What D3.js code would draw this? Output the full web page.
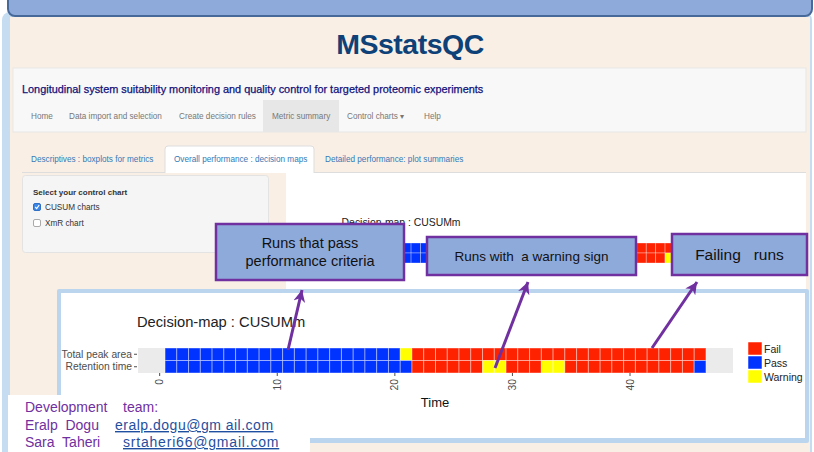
<!DOCTYPE html>
<html>
<head>
  <meta charset="utf-8" />
  <title>MSstatsQC decision map</title>
  <style>
    body { margin: 0; background: #fff; }
    svg { display: block; font-family: "Liberation Sans", Arial, sans-serif; }
    text { white-space: pre; }
    .nav { font-size: 8.2px; fill: #777; }
    .tab { font-size: 8.2px; fill: #337ab7; }
    .callout rect { fill: #8eaadb; stroke: #7030a0; stroke-width: 2.5; }
    .callout text { fill: #111; text-anchor: middle; }
    .axis text { fill: #4d4d4d; font-size: 10.3px; }
    .axis line { stroke: #4d4d4d; }
    .axis path { display: none; }
  </style>
</head>
<body>
  <svg id="svg" width="814" height="452"></svg>
  <script src="https://cdnjs.cloudflare.com/ajax/libs/d3/7.8.5/d3.min.js"></script>
  <script>
    // decision map data, one status per run (P = pass, W = warning, F = fail)
    const metrics = ['Total peak area', 'Retention time']
    const peakArea = ['P','P','P','P','P','P','P','P','P','P','P','P','P','P','P','P','P','P','P','P',
      'W','F','F','F','F','F','F','F','F','F','F','F','F','F','F','F','F','F','F','F','F','F','F','F','F','F']
    const retention = ['P','P','P','P','P','P','P','P','P','P','P','P','P','P','P','P','P','P','P','P',
      'P','F','F','F','F','F','F','W','W','F','F','F','W','W','F','F','F','F','F','F','F','F','F','F','F','P']
    const timeTicks = [0, 10, 20, 30, 40]
    const statusCodes = ['F', 'P', 'W']
    const statusLabels = ['Fail', 'Pass', 'Warning']
    const statusColors = ['#ff2200', '#0033ff', '#ffff00']

    const navItems = ['Home', 'Data import and selection', 'Create decision rules', 'Metric summary', 'Control charts \u25BE', 'Help']
    const navX = [31, 69, 179, 272, 347, 424]
    const tabItems = ['Descriptives : boxplots for metrics', 'Overall performance : decision maps', 'Detailed performance: plot summaries']
    const tabX = [31, 174, 325]

    const purple = '#7030a0'
    var svg = d3.select('#svg')

    var tiles = []
    metrics.forEach((m, i) => {
      var row = i === 0 ? peakArea : retention
      row.forEach((s, j) => tiles.push({ metric: m, time: j + 1, status: s }))
    })

    var color = d3.scaleOrdinal().domain(statusCodes).range(statusColors)

    // ---- app background ----
    svg.append('rect').attr('x', 2).attr('y', 12).attr('width', 810).attr('height', 470)
      .attr('rx', 8).attr('fill', '#c5dcf1')
    svg.append('rect').attr('x', 10).attr('y', 17).attr('width', 800).attr('height', 460).attr('fill', '#faefe5')
    svg.append('rect').attr('x', 8).attr('y', -12).attr('width', 804).attr('height', 28)
      .attr('rx', 7).attr('fill', '#8eaadb').attr('stroke', '#47699a').attr('stroke-width', 2)

    svg.append('text').attr('x', 410).attr('y', 54).attr('text-anchor', 'middle')
      .attr('font-size', 28.5).attr('font-weight', 'bold').attr('fill', '#0d4177')
      .style('letter-spacing', '-0.5px').text('MSstatsQC')

    svg.append('rect').attr('x', 13).attr('y', 68).attr('width', 793).attr('height', 64)
      .attr('fill', '#f8f8f8').attr('stroke', '#e7e7e7')
    svg.append('text').attr('x', 22).attr('y', 93).attr('font-size', 10.9).attr('fill', '#10107a')
      .attr('stroke', '#10107a').attr('stroke-width', 0.25)
      .text('Longitudinal system suitability monitoring and quality control for targeted proteomic experiments')
    svg.append('rect').attr('x', 263).attr('y', 100).attr('width', 76).attr('height', 32).attr('fill', '#e7e7e7')
    svg.selectAll('.nav').data(navItems).join('text').attr('class', 'nav')
      .attr('x', (d, i) => navX[i]).attr('y', 119)
      .attr('fill', (d, i) => i === 3 ? '#555' : '#777').text(d => d)

    // tabs
    svg.append('line').attr('x1', 22).attr('x2', 806).attr('y1', 172.5).attr('y2', 172.5).attr('stroke', '#ddd')
    svg.append('rect').attr('x', 286).attr('y', 173).attr('width', 520).attr('height', 130).attr('fill', '#fff')
    svg.append('path').attr('d', 'M165,173 V149 Q165,146 168,146 H311 Q314,146 314,149 V173')
      .attr('fill', '#fff').attr('stroke', '#ddd')
    svg.selectAll('.tab').data(tabItems).join('text').attr('class', 'tab')
      .attr('x', (d, i) => tabX[i]).attr('y', 162)
      .attr('fill', (d, i) => i === 1 ? '#555' : '#337ab7').text(d => d)

    // sidebar well
    svg.append('rect').attr('x', 22.5).attr('y', 175.5).attr('width', 246).attr('height', 77).attr('rx', 3)
      .attr('fill', '#f5f5f5').attr('stroke', '#e3e3e3')
    svg.append('text').attr('x', 33).attr('y', 195).attr('font-size', 8).attr('font-weight', 'bold')
      .attr('fill', '#333').text('Select your control chart')
    svg.append('rect').attr('x', 33.5).attr('y', 203.5).attr('width', 7).attr('height', 7).attr('rx', 1.5)
      .attr('fill', '#3b86e6').attr('stroke', '#2f6fc4')
    svg.append('path').attr('d', 'M35.2,207 L36.7,208.6 L39.2,205').attr('fill', 'none')
      .attr('stroke', '#fff').attr('stroke-width', 1.2)
    svg.append('rect').attr('x', 33.5).attr('y', 219.5).attr('width', 7).attr('height', 7).attr('rx', 1.5)
      .attr('fill', '#fff').attr('stroke', '#aaa')
    svg.append('text').attr('x', 45).attr('y', 210).attr('font-size', 8.2).attr('fill', '#333').text('CUSUM charts')
    svg.append('text').attr('x', 45).attr('y', 226).attr('font-size', 8.2).attr('fill', '#333').text('XmR chart')

    // ---- decision map ----
    function drawMap(g, full, titleSize) {
      var x = d3.scaleLinear().domain([-1.8, 48.8]).range([138, 733])
      var y = d3.scaleBand().domain(metrics).range([348, 373])
      var w = x(1) - x(0)

      g.append('text').attr('x', 137).attr('y', 327).attr('font-size', titleSize).attr('fill', '#222')
        .text('Decision-map : CUSUMm')
      g.append('rect').attr('x', x(-1.8)).attr('y', 348).attr('width', x(48.8) - x(-1.8))
        .attr('height', 25).attr('fill', '#ebebeb')
      g.selectAll('.tile').data(tiles).join('rect').attr('class', 'tile')
        .attr('x', d => x(d.time) - w / 2).attr('y', d => y(d.metric))
        .attr('width', w).attr('height', y.bandwidth())
        .attr('fill', d => color(d.status))
        .attr('stroke', '#fff').attr('stroke-opacity', 0.4).attr('stroke-width', 1)
      if (!full) return

      g.append('g').attr('class', 'axis').attr('transform', 'translate(137,0)')
        .call(d3.axisLeft(y).tickSize(3).tickPadding(2))
      var xa = g.append('g').attr('class', 'axis').attr('transform', 'translate(0,373)')
        .call(d3.axisBottom(x).tickValues(timeTicks).tickSize(3))
      xa.selectAll('text').attr('transform', 'rotate(-90)').attr('text-anchor', 'end')
        .attr('x', -6).attr('y', 0).attr('dy', '0.35em')
      g.append('text').attr('x', 435).attr('y', 407).attr('text-anchor', 'middle')
        .attr('font-size', 13).attr('fill', '#111').text('Time')

      var leg = g.selectAll('.leg').data(statusLabels).join('g').attr('class', 'leg')
        .attr('transform', (d, i) => `translate(748,${342 + i * 14})`)
      leg.append('rect').attr('width', 14).attr('height', 13).attr('fill', (d, i) => statusColors[i])
        .attr('stroke', '#fff').attr('stroke-width', 0.5)
      leg.append('text').attr('x', 16).attr('y', 10.5).attr('font-size', 10.5).attr('fill', '#222').text(d => d)
    }

    // small map inside the app, partly hidden by the notes
    var defs = svg.append('defs')
    defs.append('clipPath').attr('id', 'app-clip')
      .append('rect').attr('x', 286).attr('y', 173).attr('width', 520).attr('height', 130)
    drawMap(svg.append('g').attr('clip-path', 'url(#app-clip)')
      .append('g').attr('transform', 'translate(232,-35.4) scale(0.8)'), false, 13)

    // notes
    var notes = [
      { x: 216, y: 224, w: 188, h: 56, lines: ['Runs that pass', 'performance criteria'], size: 14.5 },
      { x: 427, y: 237, w: 209, h: 38, lines: ['Runs with  a warning sign'], size: 13.5 },
      { x: 672, y: 234, w: 135, h: 41, lines: ['Failing   runs'], size: 15.5 }
    ]
    var cg = svg.selectAll('.callout').data(notes).join('g').attr('class', 'callout')
    cg.append('rect').attr('x', d => d.x).attr('y', d => d.y).attr('width', d => d.w).attr('height', d => d.h)
    cg.each(function (d) {
      var n = d.lines.length
      d3.select(this).selectAll('text').data(d.lines).join('text')
        .attr('x', d.x + d.w / 2)
        .attr('y', (l, i) => d.y + d.h / 2 + (i - (n - 1) / 2) * 18 + d.size * 0.36)
        .attr('font-size', d.size).text(l => l)
    })

    // enlarged map in its own frame
    svg.append('rect').attr('x', 57).attr('y', 289).attr('width', 752).attr('height', 154).attr('rx', 2)
      .attr('fill', '#bcd5ee')
    svg.append('rect').attr('x', 61).attr('y', 293).attr('width', 744).attr('height', 145).attr('fill', '#fff')
    drawMap(svg.append('g'), true, 14.7)

    // arrows
    defs.append('marker').attr('id', 'head').attr('viewBox', '-10 -5 10 10')
      .attr('markerWidth', 4).attr('markerHeight', 4).attr('orient', 'auto')
      .attr('markerUnits', 'strokeWidth')
      .append('path').attr('d', 'M0,0 L-10,-5 L-7,0 L-10,5 Z').attr('fill', purple)
    var arrows = [[288, 350, 302, 290], [495, 368, 528, 282], [652, 348, 697, 282]]
    svg.selectAll('.arrow').data(arrows).join('line').attr('class', 'arrow')
      .attr('x1', d => d[0]).attr('y1', d => d[1]).attr('x2', d => d[2]).attr('y2', d => d[3])
      .attr('stroke', purple).attr('stroke-width', 3).attr('marker-end', 'url(#head)')

    // development team
    svg.append('rect').attr('x', 8).attr('y', 395).attr('width', 302).attr('height', 60).attr('fill', '#fff')
    var team = svg.append('g').attr('font-size', 14).attr('fill', purple)
    team.append('text').attr('x', 25).attr('y', 412).text('Development    team:')
    team.append('text').attr('x', 25).attr('y', 430).text('Eralp  Dogu')
    team.append('text').attr('x', 25).attr('y', 447).text('Sara  Taheri')
    team.append('text').attr('x', 115).attr('y', 430).attr('fill', '#1f4fa0').style('letter-spacing', '0.5px')
      .attr('text-decoration', 'underline').text('eralp.dogu@gm ail.com')
    team.append('text').attr('x', 123).attr('y', 447).attr('fill', '#1f4fa0').style('letter-spacing', '0.8px')
      .attr('text-decoration', 'underline').text('srtaheri66@gmail.com')
  </script>
</body>
</html>
